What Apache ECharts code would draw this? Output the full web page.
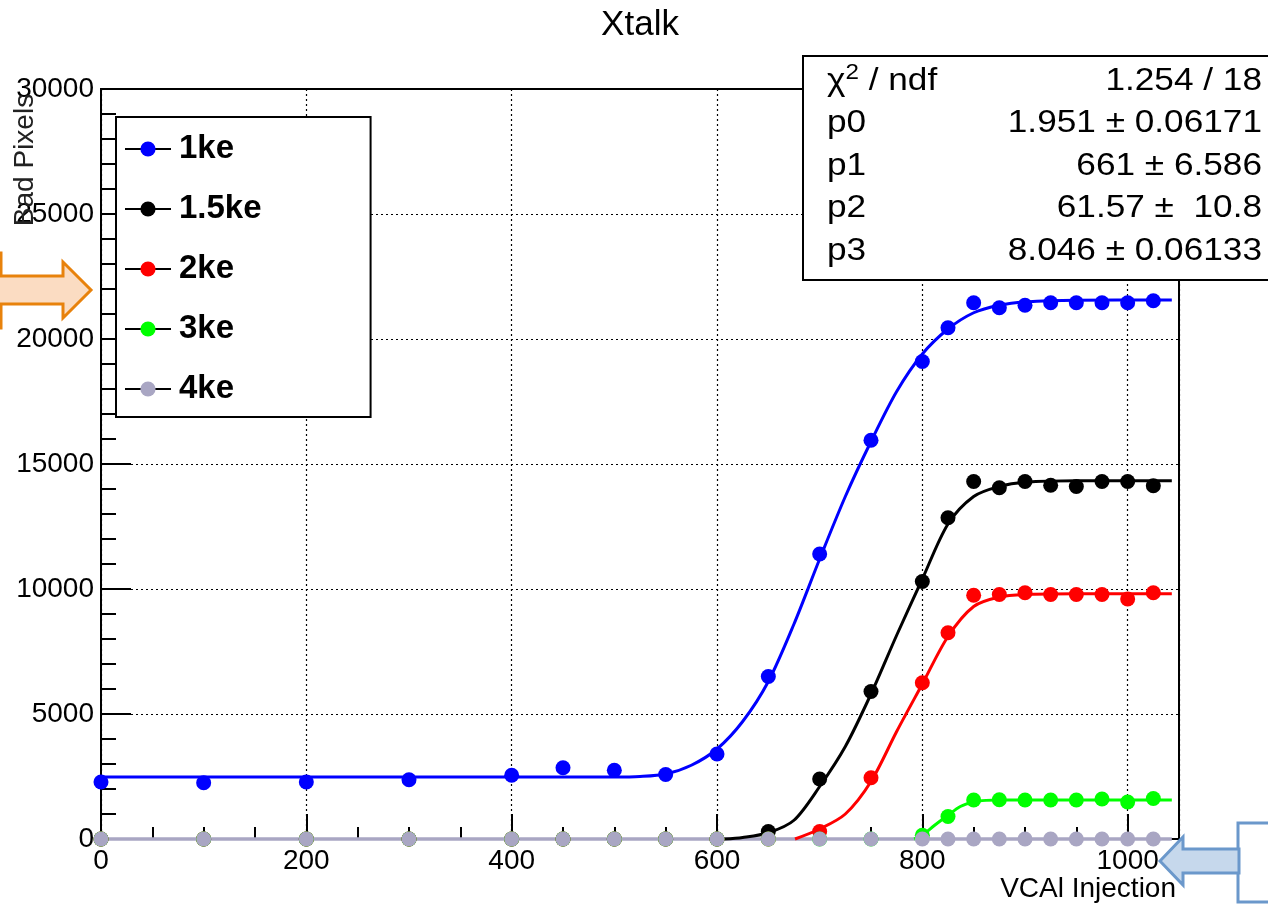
<!DOCTYPE html>
<html>
<head>
<meta charset="utf-8">
<title>Xtalk</title>
<script src="https://cdn.jsdelivr.net/npm/echarts@6/dist/echarts.min.js"></script>
<style>
  html, body { margin: 0; padding: 0; background: #fff; }
  #xtalk-chart { width: 1268px; height: 905px; }
</style>
</head>
<body>
<div id="xtalk-chart"></div>
<script>
var FONT = '"Liberation Sans", Arial, Helvetica, sans-serif';

// VCAL injection points (x) and measured bad pixel counts
var xInj = [0, 100, 200, 300, 400, 450, 500, 550, 600, 650, 700, 750, 800, 825, 850, 875, 900, 925, 950, 975, 1000, 1025];
var y1ke = [2280, 2250, 2280, 2370, 2550, 2850, 2750, 2580, 3400, 6500, 11400, 15950, 19100, 20450, 21450, 21250, 21350, 21450, 21450, 21450, 21450, 21530];
var y15ke = [0, 0, 0, 0, 0, 0, 0, 0, 0, 300, 2400, 5900, 10300, 12850, 14300, 14050, 14300, 14150, 14100, 14300, 14300, 14130];
var y2ke = [0, 0, 0, 0, 0, 0, 0, 0, 0, 0, 300, 2450, 6250, 8250, 9750, 9780, 9850, 9780, 9780, 9780, 9600, 9850];
var y3ke = [0, 0, 0, 0, 0, 0, 0, 0, 0, 0, 0, 0, 150, 900, 1560, 1570, 1560, 1560, 1560, 1600, 1480, 1620];
var y4ke = [0, 0, 0, 0, 0, 0, 0, 0, 0, 0, 0, 0, 0, 0, 0, 0, 0, 0, 0, 0, 0, 0];

// fitted curves
var fit1keX = [0, 500, 525, 550, 575, 600, 625, 650, 675, 700, 725, 750, 775, 800, 825, 850, 875, 900, 950, 1043];
var fit1keY = [2480, 2480, 2500, 2600, 2950, 3600, 4700, 6300, 8600, 11200, 13700, 15900, 17900, 19400, 20400, 21050, 21350, 21480, 21550, 21560];
var fit15keX = [607, 625, 650, 675, 700, 725, 750, 775, 800, 825, 850, 875, 900, 950, 1043];
var fit15keY = [0, 60, 250, 750, 2100, 3700, 5800, 8150, 10400, 12600, 13700, 14100, 14270, 14330, 14330];
var fit2keX = [676, 700, 725, 750, 775, 800, 825, 850, 875, 900, 950, 1043];
var fit2keY = [0, 400, 1000, 2300, 4300, 6200, 8100, 9300, 9680, 9780, 9810, 9814];
var fit3keX = [792, 800, 812, 825, 837, 850, 862, 875, 1043];
var fit3keY = [0, 150, 550, 950, 1300, 1480, 1545, 1565, 1565];
var fit4keX = [0, 1043];
var fit4keY = [0, 0];

var names = ['1ke', '1.5ke', '2ke', '3ke', '4ke'];
var colors = ['#0000ff', '#000000', '#ff0000', '#00ff00', '#a9a6c3'];

// fit box text ({s|...} is the superscript)
var statLabels = ['{c|\u03c7}{s|2}{c| / ndf}', 'p0', 'p1', 'p2', 'p3'];
var statValues = ['1.254 / 18', '1.951 \u00b1 0.06171', '661 \u00b1 6.586', '61.57 \u00b1  10.8', '8.046 \u00b1 0.06133'];

function pairs(xs, ys) {
  return xs.map(function (x, i) { return [x, ys[i]]; });
}

var pointSets = [y1ke, y15ke, y2ke, y3ke, y4ke];
var fitSets = [[fit1keX, fit1keY], [fit15keX, fit15keY], [fit2keX, fit2keY], [fit3keX, fit3keY], [fit4keX, fit4keY]];

var series = [];
// gray line first, then the others
[4, 0, 1, 2, 3].forEach(function (k) {
  series.push({
    name: names[k] + ' fit',
    type: 'line',
    data: pairs(fitSets[k][0], fitSets[k][1]),
    smooth: 0.3,
    showSymbol: false,
    clip: false,
    silent: true,
    lineStyle: { color: colors[k], width: k === 4 ? 3.5 : 3 },
    z: 3
  });
});
[0, 1, 2, 3, 4].forEach(function (k) {
  series.push({
    name: names[k],
    type: 'line',
    data: pairs(xInj, pointSets[k]),
    symbol: 'circle',
    symbolSize: 15,
    showAllSymbol: true,
    clip: false,
    silent: true,
    itemStyle: { color: colors[k] },
    lineStyle: { color: colors[k], opacity: 0 },
    z: 4
  });
});

var graphics = [];
// stats box
graphics.push({
  type: 'rect', z: 100,
  shape: { x: 803, y: 56, width: 480, height: 224 },
  style: { fill: '#fff', stroke: '#000', lineWidth: 2 }
});
var statRows = [81, 123, 166, 208, 251];
var statRich = {
  c: { fontSize: 32, fontFamily: FONT, lineHeight: 38 },
  s: { fontSize: 22, fontFamily: FONT, lineHeight: 26, verticalAlign: 'top' }
};
statLabels.forEach(function (t, i) {
  graphics.push({
    type: 'text', z: 101,
    x: 827, y: statRows[i], scaleX: 1.1,
    style: { text: t, x: 0, y: 0, fontSize: 32, fontFamily: FONT, fill: '#000', align: 'left', verticalAlign: 'middle', rich: statRich }
  });
  graphics.push({
    type: 'text', z: 101,
    x: 1262, y: statRows[i], scaleX: 1.1,
    style: { text: statValues[i], x: 0, y: 0, fontSize: 32, fontFamily: FONT, fill: '#000', align: 'right', verticalAlign: 'middle' }
  });
});
// axis titles
graphics.push({
  type: 'text', z: 50,
  x: 25, y: 160, rotation: Math.PI / 2,
  style: { text: 'Bad Pixels', x: 0, y: 0, fontSize: 28, fontFamily: FONT, fill: '#222', align: 'center', verticalAlign: 'middle' }
});
graphics.push({
  type: 'text', z: 50,
  style: { text: 'VCAl Injection', x: 1176, y: 889, fontSize: 28, fontFamily: FONT, fill: '#000', align: 'right', verticalAlign: 'middle' }
});
// orange arrow (left)
graphics.push({
  type: 'rect', z: 60,
  shape: { x: -100, y: 253, width: 101, height: 75 },
  style: { fill: 'none', stroke: '#e8820c', lineWidth: 3 }
});
graphics.push({
  type: 'polygon', z: 61,
  shape: { points: [[-5, 276], [63, 276], [63, 262], [91, 290], [63, 318], [63, 304], [-5, 304]] },
  style: { fill: '#fbdcc2', stroke: '#e8820c', lineWidth: 3 }
});
// blue arrow (bottom right)
graphics.push({
  type: 'rect', z: 60,
  shape: { x: 1238, y: 823, width: 100, height: 79 },
  style: { fill: 'none', stroke: '#6b98cb', lineWidth: 3 }
});
graphics.push({
  type: 'polygon', z: 61,
  shape: { points: [[1160, 861], [1183, 837], [1183, 849], [1239, 849], [1239, 873], [1183, 873], [1183, 885]] },
  style: { fill: '#c6d8ec', stroke: '#6b98cb', lineWidth: 3 }
});

function plainNum(v) {
  return String(v);
}

var myChart = echarts.init(document.getElementById('xtalk-chart'), null, { renderer: 'canvas' });
var option = {
  animation: false,
  backgroundColor: '#fff',
  textStyle: { fontFamily: FONT },
  title: {
    text: 'Xtalk',
    left: 635,
    textAlign: 'center',
    top: 3,
    textStyle: { fontSize: 35, fontWeight: 'normal', color: '#000', fontFamily: FONT }
  },
  legend: {
    data: names,
    orient: 'vertical',
    left: 116,
    top: 117,
    padding: [14, 109, 10, 8],
    itemWidth: 46,
    itemHeight: 19,
    itemGap: 24,
    selectedMode: false,
    backgroundColor: '#fff',
    borderColor: '#000',
    borderWidth: 2,
    lineStyle: { color: '#000', width: 2, opacity: 1, type: 'solid' },
    textStyle: { fontSize: 33, fontWeight: 'bold', color: '#000', fontFamily: FONT, lineHeight: 36, padding: [0, 0, 0, 3] }
  },
  grid: {
    left: 101,
    right: 89,
    top: 89,
    bottom: 66,
    show: true,
    borderColor: '#000',
    borderWidth: 2,
    backgroundColor: 'transparent',
    outerBoundsMode: 'none'
  },
  xAxis: {
    type: 'value',
    min: 0,
    max: 1050,
    interval: 200,
    axisLine: { show: true, lineStyle: { color: '#000', width: 2 } },
    axisTick: { show: true, inside: true, length: 25, lineStyle: { color: '#000', width: 2 } },
    minorTick: { show: true, splitNumber: 4, length: 12, lineStyle: { color: '#000', width: 2 } },
    splitLine: { show: true, lineStyle: { color: '#000', width: 1.2, type: [2, 3] } },
    axisLabel: { fontSize: 28, color: '#000', margin: 8, fontFamily: FONT, showMaxLabel: false, formatter: plainNum }
  },
  yAxis: {
    type: 'value',
    min: 0,
    max: 30000,
    interval: 5000,
    axisLine: { show: true, lineStyle: { color: '#000', width: 2 } },
    axisTick: { show: true, inside: true, length: 30, lineStyle: { color: '#000', width: 2 } },
    minorTick: { show: true, splitNumber: 5, length: 15, lineStyle: { color: '#000', width: 2 } },
    splitLine: { show: true, lineStyle: { color: '#000', width: 1.2, type: [2, 3] } },
    axisLabel: { fontSize: 28, color: '#000', margin: 7, fontFamily: FONT, formatter: plainNum }
  },
  series: series,
  graphic: graphics
};
myChart.setOption(option);
</script>
</body>
</html>
